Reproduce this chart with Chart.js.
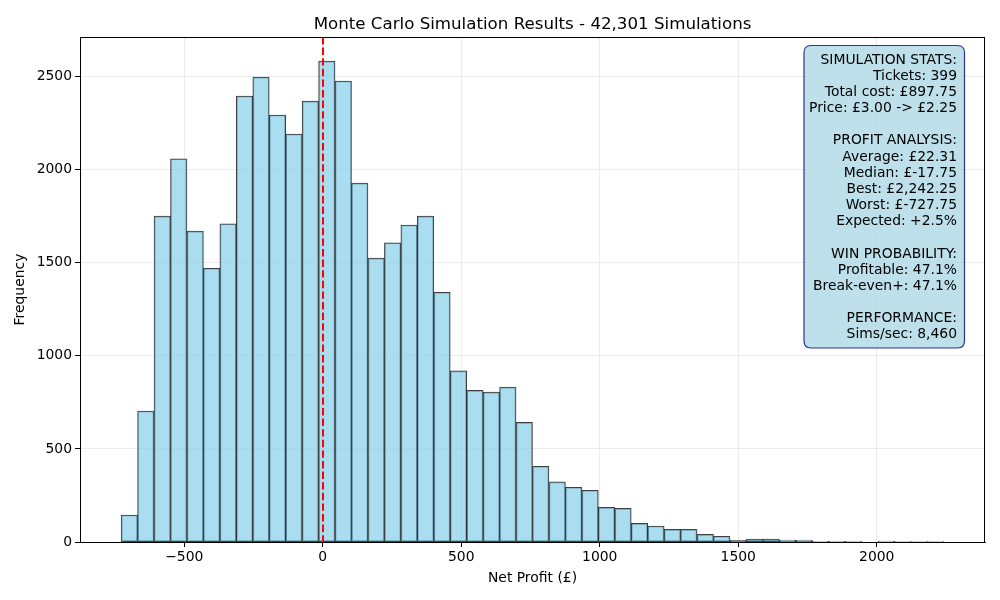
<!DOCTYPE html>
<html>
<head>
<meta charset="utf-8">
<script src="https://cdn.jsdelivr.net/npm/chart.js@4/dist/chart.umd.min.js"></script>
<style>
  html, body { margin: 0; padding: 0; background: #fff; }
  #wrap { width: 1000px; height: 600px; position: relative; }
</style>
</head>
<body>
<div id="wrap"><canvas id="c" width="1000" height="600"></canvas></div>
<script>
// ---- data ----
const binMin = -727.75;      // worst result (first bin edge)
const binMax = 2242.25;      // best result (last bin edge)
const binCount = 50;
const counts = [
  145, 704, 1751, 2059, 1670, 1471, 1710, 2396, 2498, 2294,
  2192, 2369, 2584, 2477, 1928, 1525, 1608, 1703, 1751, 1342,
  919, 815, 805, 832, 643, 407, 323, 294, 278, 186,
  181, 100, 86, 68, 68, 41, 31, 9, 16, 16,
  10, 10, 4, 4, 4, 0, 5, 1, 1, 1
];
const xTicks = [-500, 0, 500, 1000, 1500, 2000];
const yTicks = [0, 500, 1000, 1500, 2000, 2500];
const titleText = 'Monte Carlo Simulation Results - 42,301 Simulations';
const xLabel = 'Net Profit (£)';
const yLabel = 'Frequency';
const breakEven = 0;
const statsLines = [
  'SIMULATION STATS:',
  'Tickets: 399',
  'Total cost: £897.75',
  'Price: £3.00 -> £2.25',
  '',
  'PROFIT ANALYSIS:',
  'Average: £22.31',
  'Median: £-17.75',
  'Best: £2,242.25',
  'Worst: £-727.75',
  'Expected: +2.5%',
  '',
  'WIN PROBABILITY:',
  'Profitable: 47.1%',
  'Break-even+: 47.1%',
  '',
  'PERFORMANCE:',
  'Sims/sec: 8,460'
];

// ---- derived ----
const binWidth = (binMax - binMin) / binCount;
const points = counts.map((c, i) => ({ x: binMin + binWidth * (i + 0.5), y: c }));
const span = binMax - binMin;
const xMinLim = binMin - span * 0.05;
const xMaxLim = binMax + span * 0.05;
const yMaxLim = Math.max(...counts) * 1.05;

const FONT = "'DejaVu Sans', 'Liberation Sans', sans-serif";
const fmt = v => (v < 0 ? '\u2212' + Math.abs(v) : String(v));

const overlay = {
  id: 'overlay',
  afterDatasetsDraw(chart) {
    const ctx = chart.ctx;
    const a = chart.chartArea;
    const xs = chart.scales.x;
    const px = Math.round(xs.getPixelForValue(breakEven));
    ctx.save();
    ctx.strokeStyle = 'red';
    ctx.lineWidth = 2;
    ctx.setLineDash([7.4, 3.2]);
    ctx.beginPath();
    ctx.moveTo(px, a.top);
    ctx.lineTo(px, a.bottom);
    ctx.stroke();
    ctx.restore();
  },
  afterDraw(chart) {
    const ctx = chart.ctx;
    const a = chart.chartArea;
    ctx.save();
    ctx.strokeStyle = '#000';
    ctx.lineWidth = 1;
    ctx.strokeRect(Math.round(a.left) + 0.5, Math.round(a.top) + 0.5,
                   Math.round(a.right - a.left) - 1, Math.round(a.bottom - a.top));
    ctx.restore();

    // stats box
    const fs = 13.9;
    const lh = 16.16;
    const right = a.right - 28;
    const firstY = a.top + 23;
    const bx = a.right - 181, by = a.top + 8.5;
    const bw = 160.5, bh = 302.5, r = 7;
    ctx.save();
    ctx.beginPath();
    ctx.moveTo(bx + r, by);
    ctx.lineTo(bx + bw - r, by);
    ctx.quadraticCurveTo(bx + bw, by, bx + bw, by + r);
    ctx.lineTo(bx + bw, by + bh - r);
    ctx.quadraticCurveTo(bx + bw, by + bh, bx + bw - r, by + bh);
    ctx.lineTo(bx + r, by + bh);
    ctx.quadraticCurveTo(bx, by + bh, bx, by + bh - r);
    ctx.lineTo(bx, by + r);
    ctx.quadraticCurveTo(bx, by, bx + r, by);
    ctx.closePath();
    ctx.fillStyle = 'rgba(173,216,230,0.8)';
    ctx.fill();
    ctx.lineWidth = 1.2;
    ctx.strokeStyle = 'rgba(0,0,128,0.8)';
    ctx.stroke();
    ctx.fillStyle = '#000';
    ctx.font = fs + 'px ' + FONT;
    ctx.textAlign = 'right';
    ctx.textBaseline = 'middle';
    statsLines.forEach((t, i) => {
      if (t) ctx.fillText(t, right, firstY + i * lh);
    });
    ctx.restore();
  }
};

new Chart(document.getElementById('c'), {
  type: 'bar',
  data: {
    datasets: [{
      data: points,
      backgroundColor: 'rgba(135,206,235,0.7)',
      borderColor: 'rgba(30,30,30,0.85)',
      borderWidth: 1,
      barPercentage: 1,
      categoryPercentage: 1,
      borderSkipped: false
    }]
  },
  options: {
    responsive: false,
    animation: false,
    devicePixelRatio: 1,
    layout: { padding: { left: 0, right: 15, top: 0, bottom: 0 } },
    plugins: {
      legend: { display: false },
      tooltip: { enabled: false },
      title: {
        display: true,
        text: titleText,
        fullSize: false,
        color: '#000',
        font: { family: FONT, size: 16.67, weight: 'normal', lineHeight: 1.2 },
        padding: { top: 15, bottom: 2 }
      }
    },
    scales: {
      x: {
        type: 'linear',
        min: xMinLim,
        max: xMaxLim,
        offset: false,
        afterFit(s) { s.height = 58; },
        afterBuildTicks(s) { s.ticks = xTicks.map(v => ({ value: v })); },
        ticks: {
          includeBounds: false,
          autoSkip: false,
          maxRotation: 0,
          color: '#000',
          padding: 2,
          font: { family: FONT, size: 13.9 },
          callback: v => fmt(v)
        },
        grid: {
          offset: false,
          color: 'rgba(176,176,176,0.3)',
          lineWidth: 0.8,
          tickColor: '#000',
          tickLength: 5,
          tickWidth: 1
        },
        border: { color: '#000', width: 1 },
        title: {
          display: true,
          text: xLabel,
          color: '#000',
          font: { family: FONT, size: 13.9 },
          padding: { top: 0, bottom: 13 }
        }
      },
      y: {
        min: 0,
        max: yMaxLim,
        afterFit(s) { s.width = 80; },
        afterBuildTicks(s) { s.ticks = yTicks.map(v => ({ value: v })); },
        ticks: {
          color: '#000',
          padding: 3,
          font: { family: FONT, size: 13.9 },
          callback: v => fmt(v)
        },
        grid: {
          offset: false,
          color: 'rgba(176,176,176,0.3)',
          lineWidth: 0.8,
          tickColor: '#000',
          tickLength: 5,
          tickWidth: 1
        },
        border: { color: '#000', width: 1 },
        title: {
          display: true,
          text: yLabel,
          color: '#000',
          font: { family: FONT, size: 13.9 },
          padding: { top: 12, bottom: 0 }
        }
      }
    }
  },
  plugins: [overlay]
});
</script>
</body>
</html>
